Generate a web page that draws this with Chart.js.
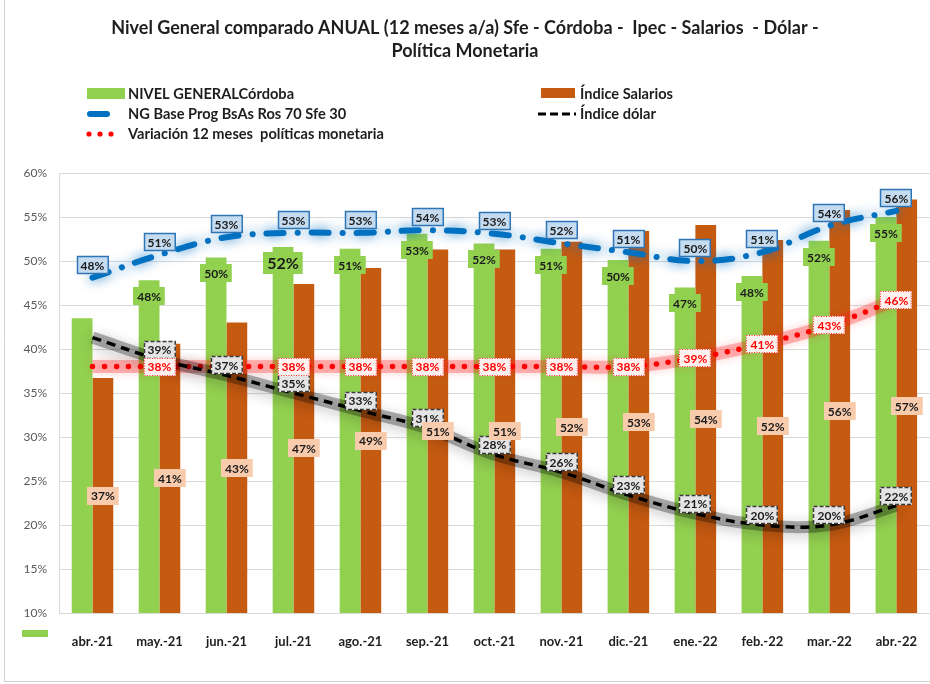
<!DOCTYPE html>
<html>
<head>
<meta charset="utf-8">
<script src="https://cdn.jsdelivr.net/npm/chart.js@4"></script>
<style>
  body { margin: 0; background: #fff; }
  #wrap { position: relative; width: 930px; height: 684px; overflow: hidden; }
</style>
</head>
<body>
<div id="wrap"><canvas id="chart" width="930" height="684"></canvas></div>
<script>
// datos (porcentaje interanual)
const months = ['abr.-21', 'may.-21', 'jun.-21', 'jul.-21', 'ago.-21', 'sep.-21', 'oct.-21',
                'nov.-21', 'dic.-21', 'ene.-22', 'feb.-22', 'mar.-22', 'abr.-22'];
const nivelGeneral = [43.5, 47.8, 50.4, 51.6, 51.4, 53.1, 52.0, 51.4, 50.1, 47.0, 48.3, 52.3, 55.0];
const salarios     = [36.7, 40.6, 43.0, 47.4, 49.2, 51.3, 51.3, 52.2, 53.4, 54.1, 52.4, 55.8, 57.0];
const ngBase       = [48.1, 50.7, 52.7, 53.2, 53.2, 53.5, 53.1, 52.0, 51.0, 50.0, 51.0, 54.0, 55.7];
const dolar        = [41.3, 38.8, 37.0, 35.0, 33.0, 31.0, 28.0, 26.0, 23.4, 21.3, 20.0, 20.0, 22.2];
const politica     = [38.0, 38.0, 38.0, 38.0, 38.0, 38.0, 38.0, 38.0, 38.0, 39.0, 40.6, 42.7, 45.6];
const yTicks = [10, 15, 20, 25, 30, 35, 40, 45, 50, 55, 60];

const titleLines = [
  'Nivel General comparado ANUAL (12 meses a/a) Sfe - Córdoba -  Ipec - Salarios  - Dólar -',
  'Política Monetaria'
];

const FONT = 'Lato, "Open Sans", sans-serif';

const labelStyles = {
  green:  { bg: '#92d050', color: '#1a1a1a' },
  orange: { bg: '#f8cbad', color: '#1a1a1a' },
  blue:   { bg: '#c5dcf0', color: '#1a1a1a', border: '#2e75b6', bw: 1.5, dash: [] },
  red:    { bg: '#fff1ee', color: '#ff0000', border: '#ff3333', bw: 1, dash: [1, 1.5] },
  black:  { bg: '#e4e4e4', color: '#1a1a1a', border: '#3a3a3a', bw: 1.5, dash: [4, 2] }
};

function drawBox(ctx, text, cx, cy, st, size) {
  size = size || 12;
  ctx.save();
  ctx.font = 'bold ' + size + 'px ' + FONT;
  const w = ctx.measureText(text).width + 8;
  const h = size + 6;
  const x = Math.round(cx - w / 2), y = Math.round(cy - h / 2);
  ctx.fillStyle = st.bg;
  ctx.fillRect(x, y, w, h);
  if (st.border) {
    ctx.strokeStyle = st.border;
    ctx.lineWidth = st.bw;
    ctx.setLineDash(st.dash);
    ctx.strokeRect(x + 0.5, y + 0.5, w - 1, h - 1);
  }
  ctx.fillStyle = st.color;
  ctx.textAlign = 'center';
  ctx.textBaseline = 'middle';
  ctx.fillText(text, cx, cy + 1);
  ctx.restore();
}

// sombra / resplandor de las lineas
const glowPlugin = {
  id: 'glow',
  beforeDatasetDraw(chart, args) {
    const ds = chart.data.datasets[args.index];
    if (!ds.glow) return;
    const ctx = chart.ctx;
    ctx.save();
    ctx.shadowColor = ds.glow.color;
    ctx.shadowBlur = ds.glow.blur;
    ctx.shadowOffsetY = ds.glow.dy || 0;
  },
  afterDatasetDraw(chart, args) {
    const ds = chart.data.datasets[args.index];
    if (ds.glow) chart.ctx.restore();
  }
};

const labelPlugin = {
  id: 'boxLabels',
  afterDatasetsDraw(chart) {
    const ctx = chart.ctx;
    const bottom = chart.chartArea.bottom;
    chart.data.datasets.forEach((ds, i) => {
      if (!ds.labelStyle) return;
      const meta = chart.getDatasetMeta(i);
      const st = labelStyles[ds.labelStyle];
      meta.data.forEach((el, j) => {
        if (ds.skipLabels && ds.skipLabels.includes(j)) return;
        const txt = Math.round(ds.data[j]) + '%';
        let cy;
        if (ds.labelStyle === 'green') cy = el.y + 16;
        else if (ds.labelStyle === 'orange') cy = (el.y + Math.min(el.base, bottom)) / 2;
        else cy = el.y + (ds.labelDy || 0);
        const size = ds.bigLabel === j ? 16 : 12;
        drawBox(ctx, txt, el.x, cy, st, size);
      });
    });
  }
};

const decorPlugin = {
  id: 'decor',
  afterDraw(chart) {
    const ctx = chart.ctx;
    ctx.save();
    // titulo
    ctx.fillStyle = '#1e1e1e';
    ctx.font = 'bold 18px ' + FONT;
    ctx.textAlign = 'center';
    ctx.textBaseline = 'middle';
    ctx.fillText(titleLines[0], 465, 28);
    ctx.fillText(titleLines[1], 465, 51);

    // leyenda
    ctx.textAlign = 'left';
    ctx.font = 'bold 14.6px ' + FONT;
    ctx.fillStyle = '#92d050';
    ctx.fillRect(87, 88, 38, 11);
    ctx.fillStyle = '#c55a11';
    ctx.fillRect(541, 88, 34, 10);

    ctx.lineCap = 'round';
    ctx.strokeStyle = '#0070c0';
    ctx.lineWidth = 6;
    ctx.beginPath(); ctx.moveTo(90, 114); ctx.lineTo(107, 114); ctx.stroke();

    ctx.lineCap = 'butt';
    ctx.strokeStyle = '#000';
    ctx.lineWidth = 3;
    ctx.setLineDash([8, 4]);
    ctx.beginPath(); ctx.moveTo(538, 114); ctx.lineTo(576, 114); ctx.stroke();
    ctx.setLineDash([]);

    ctx.fillStyle = '#ff0000';
    [89, 100, 111].forEach(x => {
      ctx.beginPath(); ctx.arc(x, 134, 2.6, 0, Math.PI * 2); ctx.fill();
    });

    ctx.fillStyle = '#1e1e1e';
    ctx.fillText('NIVEL GENERALCórdoba', 128, 94);
    ctx.fillText('NG Base Prog BsAs Ros 70 Sfe 30', 128, 114);
    ctx.fillText('Variación 12 meses  políticas monetaria', 128, 134);
    ctx.fillText('Índice Salarios', 580, 94);
    ctx.fillText('Índice dólar', 580, 114);

    // marca suelta abajo a la izquierda
    ctx.fillStyle = '#92d050';
    ctx.fillRect(22, 630, 26, 7);

    // borde del grafico
    ctx.strokeStyle = '#d0d0d0';
    ctx.lineWidth = 1;
    ctx.beginPath();
    ctx.moveTo(4.5, 0); ctx.lineTo(4.5, 681.5); ctx.lineTo(930, 681.5);
    ctx.stroke();
    ctx.restore();
  }
};

function draw() {
  const ctx = document.getElementById('chart').getContext('2d');
  new Chart(ctx, {
    type: 'bar',
    data: {
      labels: months,
      datasets: [
        {
          type: 'line', label: 'Índice dólar', data: dolar, order: 1,
          borderColor: '#000', borderWidth: 3.5, borderDash: [9, 6],
          pointRadius: 0, tension: 0.4, fill: false,
          labelStyle: 'black', labelDy: -10, skipLabels: [0]
        },
        {
          // sombra difusa bajo la linea del dolar
          type: 'line', data: dolar, order: 2,
          borderColor: 'rgba(0,0,0,0.3)', borderWidth: 12,
          pointRadius: 0, tension: 0.4, fill: false,
          glow: { color: 'rgba(0,0,0,0.7)', blur: 14, dy: 3 }
        },
        {
          type: 'line', label: 'Variación 12 meses  políticas monetaria', data: politica, order: 3,
          borderColor: '#ff0000', borderWidth: 5.5, borderDash: [0, 12], borderCapStyle: 'round',
          pointRadius: 0, tension: 0.4, fill: false,
          labelStyle: 'red', labelDy: 0, skipLabels: [0, 2]
        },
        {
          // resplandor rojo
          type: 'line', data: politica, order: 4,
          borderColor: 'rgba(255,40,40,0.3)', borderWidth: 13,
          pointRadius: 0, tension: 0.4, fill: false,
          glow: { color: 'rgba(255,0,0,0.6)', blur: 10 }
        },
        {
          type: 'line', label: 'NG Base Prog BsAs Ros 70 Sfe 30', data: ngBase, order: 5,
          borderColor: '#0070c0', borderWidth: 6, borderDash: [17, 14, 0.1, 14], borderCapStyle: 'round',
          pointRadius: 0, tension: 0.4, fill: false,
          glow: { color: 'rgba(0,112,192,0.85)', blur: 12 },
          labelStyle: 'blue', labelDy: -13
        },
        {
          label: 'NIVEL GENERALCórdoba', data: nivelGeneral, order: 6,
          backgroundColor: '#92d050', barPercentage: 1, categoryPercentage: 0.62,
          labelStyle: 'green', skipLabels: [0], bigLabel: 3
        },
        {
          label: 'Índice Salarios', data: salarios, order: 6,
          backgroundColor: '#c55a11', barPercentage: 1, categoryPercentage: 0.62,
          labelStyle: 'orange'
        }
      ]
    },
    options: {
      responsive: false,
      animation: false,
      layout: { padding: { top: 173, left: 0, right: 0, bottom: 0 } },
      plugins: {
        legend: { display: false },
        title: { display: false },
        tooltip: { enabled: false }
      },
      scales: {
        x: {
          grid: { display: false },
          border: { display: false },
          ticks: {
            autoSkip: false, maxRotation: 0, padding: 13,
            color: '#1e1e1e', font: { family: FONT, size: 13, weight: 'bold' }
          },
          afterFit(s) { s.height = 71; }
        },
        y: {
          min: 10, max: 60,
          afterBuildTicks(s) { s.ticks = yTicks.map(v => ({ value: v })); },
          grid: { color: '#d9d9d9', drawTicks: false },
          border: { display: true, color: '#d9d9d9' },
          ticks: {
            padding: 12, color: '#595959',
            font: { family: FONT, size: 12 },
            callback: v => v + '%'
          },
          afterFit(s) { s.width = 59; }
        }
      }
    },
    plugins: [glowPlugin, labelPlugin, decorPlugin]
  });
}

Promise.all([
  document.fonts.load('bold 14px Lato'),
  document.fonts.load('12px Lato')
]).catch(() => {}).then(draw);
</script>
</body>
</html>
